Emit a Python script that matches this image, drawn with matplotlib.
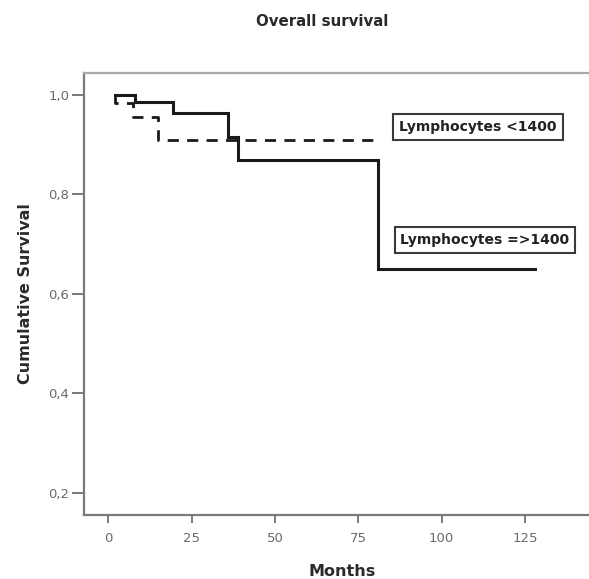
import matplotlib
matplotlib.use("Agg")
import matplotlib.pyplot as plt
from matplotlib.ticker import FuncFormatter

# Data (Kaplan-Meier step points)
high_times = [2, 8, 19.3, 36, 39, 80.8, 128]
high_surv = [1.0, 0.985, 0.964, 0.916, 0.869, 0.65, 0.65]
low_times = [2, 2, 7.5, 15, 81.5]
low_surv = [1.0, 0.983, 0.956, 0.909, 0.909]
x_ticks = [0, 25, 50, 75, 100, 125]
y_ticks = [0.2, 0.4, 0.6, 0.8, 1.0]

W, H = 589, 579
fig = plt.figure(figsize=(W / 100, H / 100), dpi=100)
ax = fig.add_axes([84 / W, 1 - 515 / H, 1 - 84 / W, (515 - 73) / H])

ax.plot(high_times, high_surv, drawstyle='steps-post', color='#1a1a1a', lw=2.2,
        solid_joinstyle='miter')
ax.plot(low_times, low_surv, drawstyle='steps-post', color='#1a1a1a', lw=2.0,
        linestyle=(0, (4, 3)))

ax.set_xlim(-7.3, 144.2)
ax.set_ylim(0.155, 1.044)
ax.set_xticks(x_ticks)
ax.set_yticks(y_ticks)
ax.xaxis.set_major_formatter(FuncFormatter(lambda v, p: f"{int(v)}"))
ax.yaxis.set_major_formatter(FuncFormatter(lambda v, p: f"{v:.1f}".replace('.', ',')))

spine_c = '#7a7a7a'
for s in ['left', 'bottom']:
    ax.spines[s].set_color(spine_c)
    ax.spines[s].set_linewidth(1.6)
ax.spines['top'].set_color('#a8a8a8')
ax.spines['top'].set_linewidth(1.6)
ax.spines['right'].set_visible(False)
ax.tick_params(axis='both', direction='out', width=1.4, color=spine_c,
               labelcolor='#6a6a6a', labelsize=9.5)
ax.tick_params(axis='x', length=6, pad=6)
ax.tick_params(axis='y', length=8.5, pad=2)

ax.set_xlabel("Months", fontsize=11.5, fontweight='bold', color='#2a2a2a')
ax.xaxis.set_label_coords((342 - 84) / 505, (515 - 564) / 442)
ax.set_ylabel("Cumulative Survival", fontsize=11.5, fontweight='bold', color='#2a2a2a', labelpad=11)
fig.text(322 / W, 1 - 22 / H, "Overall survival", fontsize=10.8, fontweight='bold',
         color='#2a2a2a', ha='center', va='center')

box = dict(boxstyle='square,pad=0.42', facecolor='white', edgecolor='#3a3a3a', lw=1.5)
ax.text(478 / W, 1 - 127 / H, "Lymphocytes <1400", transform=fig.transFigure, fontsize=10,
        fontweight='bold', color='#222222', ha='center', va='center', bbox=box)
ax.text(485 / W, 1 - 240 / H, "Lymphocytes =>1400", transform=fig.transFigure, fontsize=10,
        fontweight='bold', color='#222222', ha='center', va='center', bbox=box)

fig.savefig("out.png", dpi=100)
